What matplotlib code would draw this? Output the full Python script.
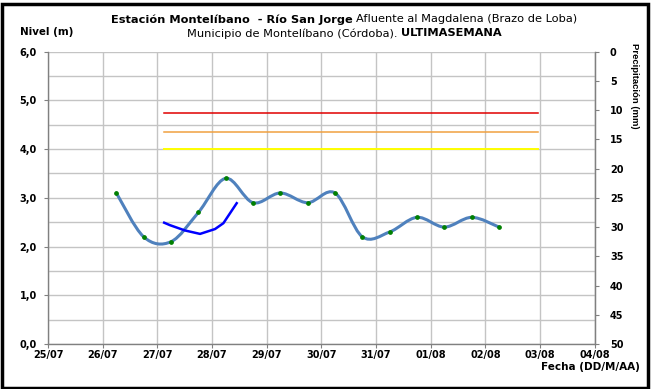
import matplotlib
matplotlib.use("Agg")
import matplotlib.pyplot as plt
import matplotlib.dates as mdates
from matplotlib.path import Path
from matplotlib.patches import PathPatch, Rectangle
import numpy as np
import pandas as pd

plt.rcParams['font.family'] = ['DejaVu Sans']

# ---- data ----
nivel_fechas = ["2013-07-26 06:00", "2013-07-26 18:00", "2013-07-27 06:00", "2013-07-27 18:00",
                "2013-07-28 06:00", "2013-07-28 18:00", "2013-07-29 06:00", "2013-07-29 18:00",
                "2013-07-30 06:00", "2013-07-30 18:00", "2013-07-31 06:00", "2013-07-31 18:00",
                "2013-08-01 06:00", "2013-08-01 18:00", "2013-08-02 06:00"]
nivel_valores = [3.1, 2.2, 2.1, 2.7, 3.4, 2.9, 3.1, 2.9, 3.1, 2.2, 2.3, 2.6, 2.4, 2.6, 2.4]

sensor_fechas = ["2013-07-27 03:00", "2013-07-27 05:30", "2013-07-27 12:10", "2013-07-27 18:45",
                 "2013-07-28 01:20", "2013-07-28 05:00", "2013-07-28 10:50"]
sensor_valores = [2.49, 2.44, 2.33, 2.26, 2.36, 2.48, 2.89]

umbral_inicio = "2013-07-27 03:00"
umbral_fin = "2013-08-02 23:00"
umbral_rojo = 4.74
umbral_naranja = 4.36
umbral_amarillo = 4.0

x_inicio = "2013-07-25"
x_fin = "2013-08-04"
nivel_ticks = [0, 1, 2, 3, 4, 5, 6]
precip_ticks = [0, 5, 10, 15, 20, 25, 30, 35, 40, 45, 50]

# ---- figure ----
fig = plt.figure(figsize=(6.57, 3.89), dpi=100)
ax = fig.add_axes([48/657, 1-344/389, (594.7-48)/657, (344-51.7)/389])

def dnum(s):
    return mdates.date2num(pd.to_datetime(s))

xn = np.array([dnum(s) for s in nivel_fechas])
yn = np.array(nivel_valores, dtype=float)

# Excel-style smoothed line (Bezier with 1/6 tangent)
pts = np.column_stack([xn, yn])
verts = [tuple(pts[0])]
codes = [Path.MOVETO]
n = len(pts)
for i in range(n - 1):
    p0 = pts[i - 1] if i > 0 else pts[i]
    p1 = pts[i]
    p2 = pts[i + 1]
    p3 = pts[i + 2] if i + 2 < n else pts[i + 1]
    c1 = p1 + (p2 - p0) / 6.0
    c2 = p2 - (p3 - p1) / 6.0
    verts += [tuple(c1), tuple(c2), tuple(p2)]
    codes += [Path.CURVE4] * 3
ax.add_patch(PathPatch(Path(verts, codes), facecolor='none', edgecolor='#4F81BD',
                       lw=2.2, zorder=4, capstyle='round', joinstyle='round'))
ax.plot(xn, yn, 'o', color='#008000', ms=2.4, mec='#008000', zorder=5)

xs = [dnum(s) for s in sensor_fechas]
ax.plot(xs, sensor_valores, color='#0000FF', lw=1.8, zorder=4, solid_joinstyle='round')

x0, x1 = dnum(umbral_inicio), dnum(umbral_fin)
ax.plot([x0, x1], [umbral_rojo, umbral_rojo], color='#E00000', lw=1.1, zorder=3)
ax.plot([x0, x1], [umbral_naranja, umbral_naranja], color='#F0A040', lw=1.1, zorder=3)
ax.plot([x0, x1], [umbral_amarillo, umbral_amarillo], color='#FFFF00', lw=1.4, zorder=3)

ax.set_xlim(dnum(x_inicio), dnum(x_fin))
ax.set_ylim(0, 6)
ax.xaxis.set_major_locator(mdates.DayLocator())
ax.xaxis.set_major_formatter(mdates.DateFormatter('%d/%m'))
ax.set_yticks(nivel_ticks)
ax.set_yticklabels([f"{v:.1f}".replace('.', ',') for v in nivel_ticks])
ax.set_yticks(np.arange(0, 6.01, 0.5), minor=True)

ax.grid(True, which='major', axis='x', color='#C4C4C4', lw=1.0)
ax.grid(True, which='both', axis='y', color='#C4C4C4', lw=1.0)
ax.set_axisbelow(True)
ax.tick_params(axis='y', which='minor', length=0)
ax.tick_params(axis='both', which='major', length=3, width=0.8, color='#808080',
               labelsize=7, pad=2)
ax.tick_params(axis='y', which='major', pad=5)
ax.tick_params(axis='x', which='major', pad=1.5)
for lab in ax.get_xticklabels() + ax.get_yticklabels():
    lab.set_fontweight('bold')

ax.spines['top'].set_visible(False)
for side in ['left', 'bottom', 'right']:
    ax.spines[side].set_color('#808080')
    ax.spines[side].set_linewidth(1.0)

ax2 = ax.twinx()
ax2.set_ylim(50, 0)
ax2.set_yticks(precip_ticks)
ax2.set_yticklabels([str(v) for v in precip_ticks])
ax2.tick_params(axis='y', length=3, width=0.8, color='#808080', labelsize=7, pad=8)
for lab in ax2.get_yticklabels():
    lab.set_fontweight('bold')
for side in ['top', 'left', 'bottom']:
    ax2.spines[side].set_visible(False)
ax2.spines['right'].set_color('#808080')

# texts
fig.text(20/657, 1-32/389, "Nivel (m)", fontsize=7.4, fontweight='bold', ha='left', va='center')
fig.text(635/657, 1-43/389, "Precipitación (mm)", fontsize=6.8, fontweight='bold',
         family='Liberation Sans', rotation=270, ha='center', va='top')
fig.text(640/657, 1-367/389, "Fecha (DD/M/AA)", fontsize=7.5, fontweight='bold', ha='right', va='center')

# title (mixed bold/normal)
t1a = fig.text(0, 1-19.5/389, "Estación Montelíbano  - Río San Jorge ", fontsize=8.2,
               fontweight='bold', ha='left', va='center')
t1b = fig.text(0, 1-19.5/389, "Afluente al Magdalena (Brazo de Loba)", fontsize=8.2,
               ha='left', va='center')
t2a = fig.text(0, 1-33.5/389, "Municipio de Montelíbano (Córdoba). ", fontsize=8.2,
               ha='left', va='center')
t2b = fig.text(0, 1-33.5/389, "ULTIMASEMANA", fontsize=8.2, fontweight='bold',
               ha='left', va='center')
fig.canvas.draw()
r = fig.canvas.get_renderer()
cx = 344 / 657
for a, b in [(t1a, t1b), (t2a, t2b)]:
    wa = a.get_window_extent(r).width / fig.bbox.width
    wb = b.get_window_extent(r).width / fig.bbox.width
    start = cx - (wa + wb) / 2
    a.set_x(start)
    b.set_x(start + wa)

# frame
fig.patches.append(Rectangle((1.5/657, 1.5/389), 646.5/657, 384/389, transform=fig.transFigure,
                             fill=False, edgecolor='black', lw=2.5))

fig.savefig("out.png", dpi=100)
